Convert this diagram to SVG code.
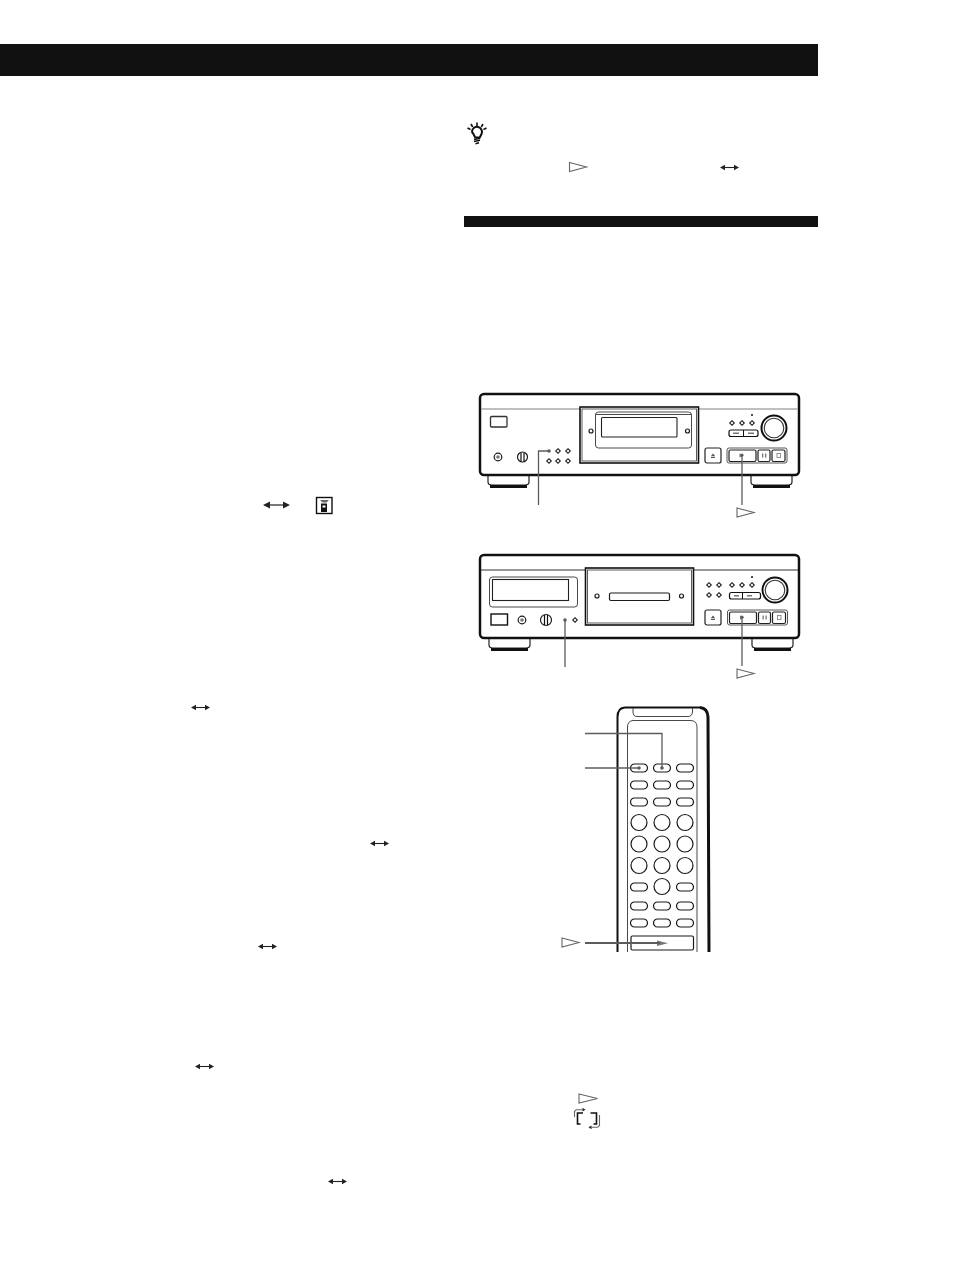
<svg xmlns="http://www.w3.org/2000/svg" width="954" height="1272" viewBox="0 0 954 1272">
<style>
.o{fill:#fff;stroke:#1a1a1a;stroke-width:1.200}
.m{fill:none;stroke:#333;stroke-width:.9}
.t{fill:#fff;stroke:#666;stroke-width:1.100}
.b{fill:#fff;stroke:#111;stroke-width:2.500}
.l{fill:none;stroke:#5c5c5c;stroke-width:1.300}
.f{fill:#5c5c5c}
.k{fill:#111}
</style>
<defs>
<g id="dbl"><path d="M1.500 0H17.500" stroke="#222" stroke-width="1.100" fill="none"/><path d="M0 0L5 -2.800V2.800ZM19 0L14 -2.800V2.800Z" fill="#222"/></g>
<path id="tri" class="t" d="M0 0L17 4.500L0 9Z"/>
<path id="dia" d="M0 -2.300L2.300 0L0 2.300L-2.300 0Z" fill="#fff" stroke="#222" stroke-width="1.100"/>
<g id="knob"><circle r="12.500" fill="#fff" stroke="#111" stroke-width="2"/><circle r="9.800" fill="#fff" stroke="#333" stroke-width="1.100"/></g>
<g id="foot"><path d="M0 0H41V7Q41 10 37 10H4Q0 10 0 7Z" fill="#fff" stroke="#222" stroke-width="1.200"/><path d="M2 11.500H39" stroke="#111" stroke-width="3"/></g>
<g id="transport">
<rect width="60" height="15" rx="2" fill="#fff" stroke="#444" stroke-width=".9"/>
<rect x="2" y="2" width="27" height="11.500" rx="1.500" fill="#fff" stroke="#222" stroke-width="1.200"/>
<rect x="31" y="2" width="12" height="11.500" rx="1.500" fill="#fff" stroke="#222" stroke-width="1.200"/>
<rect x="45" y="2" width="13" height="11.500" rx="1.500" fill="#fff" stroke="#222" stroke-width="1.200"/>
<path d="M12.500 5.500L17 7.500L12.500 9.500Z" fill="#777"/>
<path d="M35 5.500h1.300v4H35zM38 5.500h1.300v4H38z" fill="#777"/>
<rect x="50" y="5.500" width="3.500" height="4" fill="none" stroke="#777" stroke-width=".8"/>
</g>
<g id="eject"><rect width="16" height="15" rx="2" fill="#fff" stroke="#222" stroke-width="1.200"/><path d="M6 8L8 5.500L10 8ZM6 8.800h4v1.200H6z" fill="#555"/></g>
<rect id="pill" x="-8.500" y="-4" width="17" height="8" rx="4" class="o"/>
<circle id="round" r="8" class="o"/>
</defs>

<rect id="top-bar" x="0" y="44" width="818" height="32" fill="#111"/>
<rect id="section-bar" x="464" y="216" width="354" height="11" fill="#111"/>

<g id="tip-icon">
<path d="M472 131.500a5 5 0 1 1 9.500 2.500l-1.700 3.500h-4.600l-1.700-3.500a5 5 0 0 1-1.500-2.500Z" fill="#fff" stroke="#111" stroke-width="2"/>
<path d="M474 139.500l6-1.300M474 141.500l6-1.300M475.500 143.800l3.500-1" stroke="#111" stroke-width="1.500"/>
<path d="M477 122.500v3.500M471 124l1.700 3M483 124l-1.700 3M467.500 128l3 1.500M486.500 128l-3 1.500" stroke="#111" stroke-width="1.600"/>
</g>

<g id="symbols">
<use href="#tri" x="569.500" y="162.500"/>
<use href="#dbl" x="720" y="167.500"/>
<path d="M265 505H288" stroke="#222" stroke-width="1.200"/><path d="M263 505L270 501.500V508.500ZM290 505L283 501.500V508.500Z" fill="#222"/>
<use href="#dbl" x="191" y="707.500"/>
<use href="#dbl" x="370" y="843.500"/>
<use href="#dbl" x="258" y="946.500"/>
<use href="#dbl" x="195" y="1066.500"/>
<use href="#dbl" x="328" y="1181.500"/>
<path class="t" d="M579 1094L597.500 1098.500L579 1103Z"/>
<g id="remote-icon">
<rect x="316.500" y="497.500" width="15.500" height="16" fill="#fff" stroke="#111" stroke-width="1.400"/>
<path d="M320 500h9l-2.500 2.500h-4Z" fill="#666"/>
<rect x="321" y="503.500" width="6" height="8.500" fill="#111"/><rect x="322.500" y="505.500" width="3" height="2" fill="#fff"/>
</g>
<g id="repeat-icon" fill="none">
<path d="M583 1113h-5.500v11h3M590.500 1113h6v11h-3" stroke="#111" stroke-width="1.600"/>
<path d="M574.500 1117v-5.500l1.800-1.800h6M599.500 1115v10.500l-1.800 1.800h-6" stroke="#666" stroke-width="1.100"/>
<path d="M582.500 1107.800l3 1.900-3 1.900ZM591.500 1125.400l-3 1.900 3 1.900Z" fill="#222"/>
</g>
</g>

<g id="deck-1">
<use href="#foot" x="488" y="475"/><use href="#foot" x="751" y="475"/>
<rect x="480" y="394" width="319" height="81" rx="4" class="b"/>
<path d="M481 409H798" stroke="#aaa" stroke-width="1.600"/>
<rect x="580" y="407" width="118.500" height="56" fill="#fff" stroke="#111" stroke-width="1.600"/>
<rect x="582" y="409" width="114.500" height="52" fill="none" stroke="#333" stroke-width=".8"/>
<rect x="595.500" y="412" width="96" height="36" rx="3" class="m"/>
<path d="M596 414.500H691" class="m"/>
<rect x="601.500" y="417.500" width="75.500" height="19.500" rx="1" fill="#fff" stroke="#222" stroke-width="1.100"/>
<circle cx="591" cy="431" r="2" class="o"/><circle cx="687.500" cy="431" r="2" class="o"/>
<rect x="490.500" y="416.500" width="16.500" height="10.500" rx="1" fill="#fff" stroke="#333" stroke-width="1.300"/>
<circle cx="498" cy="457" r="3.800" class="o"/><circle cx="498" cy="457" r="1.800" fill="#777"/>
<circle cx="522.500" cy="457" r="5" class="o"/><path d="M521 452.500v9M524 452.500v9" stroke="#111" stroke-width="1.200"/>
<use href="#dia" x="558" y="451"/><use href="#dia" x="568" y="451"/><use href="#dia" x="549" y="461"/><use href="#dia" x="558" y="461"/><use href="#dia" x="568" y="461"/>
<use href="#dia" x="732" y="423"/><use href="#dia" x="742" y="423"/><use href="#dia" x="752" y="423"/>
<circle cx="752" cy="415" r="1" class="k"/>
<rect x="729" y="430" width="29" height="6.500" rx="2" fill="#fff" stroke="#111" stroke-width="1.200"/><path d="M743.500 430v6.500" stroke="#111"/><path d="M733 433.200h6M748 433.200h6" stroke="#777" stroke-width="1.500"/>
<use href="#knob" x="774" y="428"/>
<use href="#eject" x="705" y="448"/>
<use href="#transport" x="727" y="448"/>
</g>

<g id="deck-2">
<use href="#foot" x="489" y="638"/><use href="#foot" x="752" y="638"/>
<rect x="480" y="555" width="319" height="83" rx="4" class="b"/>
<path d="M481 570H798" stroke="#333" stroke-width="1.100"/>
<rect x="585.500" y="568" width="108" height="57" fill="#fff" stroke="#111" stroke-width="1.600"/>
<rect x="587.500" y="570" width="104" height="53" fill="none" stroke="#333" stroke-width=".8"/>
<rect x="609.500" y="593" width="60" height="7.500" rx="1.500" class="o"/>
<circle cx="597" cy="596" r="2" class="o"/><circle cx="681.500" cy="596" r="2" class="o"/>
<rect x="489.500" y="577" width="88" height="30" rx="3" class="m"/>
<rect x="492.500" y="579.500" width="76" height="21" fill="#fff" stroke="#222" stroke-width="1.100"/>
<rect x="491" y="614" width="16.500" height="11" fill="#fff" stroke="#111" stroke-width="1.400"/>
<circle cx="522" cy="620" r="3.800" class="o"/><circle cx="522" cy="620" r="1.800" fill="#777"/>
<circle cx="546" cy="620" r="5.500" class="o"/><path d="M544.500 615v10M547.500 615v10" stroke="#111" stroke-width="1.200"/>
<use href="#dia" x="575" y="620"/>
<use href="#dia" x="709" y="585"/><use href="#dia" x="719" y="585"/><use href="#dia" x="709" y="595"/><use href="#dia" x="719" y="595"/>
<use href="#dia" x="732" y="585"/><use href="#dia" x="742" y="585"/><use href="#dia" x="752" y="585"/>
<circle cx="752" cy="577" r="1" class="k"/>
<rect x="729.500" y="592.500" width="31" height="6.500" rx="2" fill="#fff" stroke="#111" stroke-width="1.200"/><path d="M742.500 592.500v6.500" stroke="#111"/><path d="M734 595.700h5M747 595.700h5" stroke="#777" stroke-width="1.500"/>
<use href="#knob" x="775" y="590"/>
<use href="#eject" x="705" y="610"/>
<use href="#transport" x="727.500" y="610"/>
</g>

<g id="remote">
<path d="M617.500 952V717Q617.500 708 625 707.500H700Q707.500 708 708 717L709 952" fill="#fff" stroke="none"/>
<path d="M617.500 952V717Q617.500 708 625 707.500H700" fill="none" stroke="#111" stroke-width="2"/>
<path d="M700 707.500Q707.500 708 708 717L709 952" fill="none" stroke="#111" stroke-width="3"/>
<path d="M633 708V712Q633 716.500 637 716.500H688Q692 716.500 692.500 712V708" class="m"/>
<path d="M627.500 952V727Q627.500 721 633 720.500H691Q697 721 697 727V952" class="m"/>
<use href="#pill" x="639" y="768"/><use href="#pill" x="662" y="768"/><use href="#pill" x="685" y="768"/>
<use href="#pill" x="639" y="785"/><use href="#pill" x="662" y="785"/><use href="#pill" x="685" y="785"/>
<use href="#pill" x="639" y="802"/><use href="#pill" x="662" y="802"/><use href="#pill" x="685" y="802"/>
<use href="#round" x="639" y="822.500"/><use href="#round" x="662" y="822.500"/><use href="#round" x="685" y="822.500"/>
<use href="#round" x="639" y="844"/><use href="#round" x="662" y="844"/><use href="#round" x="685" y="844"/>
<use href="#round" x="639" y="865.500"/><use href="#round" x="662" y="865.500"/><use href="#round" x="685" y="865.500"/>
<use href="#pill" x="639" y="887"/><use href="#round" x="662" y="886.500"/><use href="#pill" x="685" y="887"/>
<use href="#pill" x="639" y="906"/><use href="#pill" x="662" y="906"/><use href="#pill" x="685" y="906"/>
<use href="#pill" x="639" y="923"/><use href="#pill" x="662" y="923"/><use href="#pill" x="685" y="923"/>
<rect x="631" y="936" width="62.500" height="14" rx="1.500" class="o"/>
<path d="M657 940.500L668 943.300L657 946Z" fill="#777"/>
</g>

<g id="connectors">
<path class="l" d="M549 451H538.500V505"/><circle cx="549" cy="451" r="1.800" class="f"/>
<path class="l" d="M742 455V505"/><circle cx="742" cy="455" r="1.500" class="f"/>
<use href="#tri" x="737" y="508"/>
<path class="l" d="M565 620V667"/><circle cx="565" cy="620" r="1.800" class="f"/>
<path class="l" d="M742 617V666"/><circle cx="742" cy="617" r="1.500" class="f"/>
<use href="#tri" x="737" y="669"/>
<path class="l" d="M585 733.500H662V768"/><circle cx="662" cy="768" r="1.800" class="f"/>
<path class="l" d="M585 768H639"/><circle cx="639" cy="768" r="1.800" class="f"/>
<path d="M585 943H660" stroke="#5c5c5c" stroke-width="1.800" fill="none"/>
<use href="#tri" x="562" y="938"/>
</g>
</svg>
